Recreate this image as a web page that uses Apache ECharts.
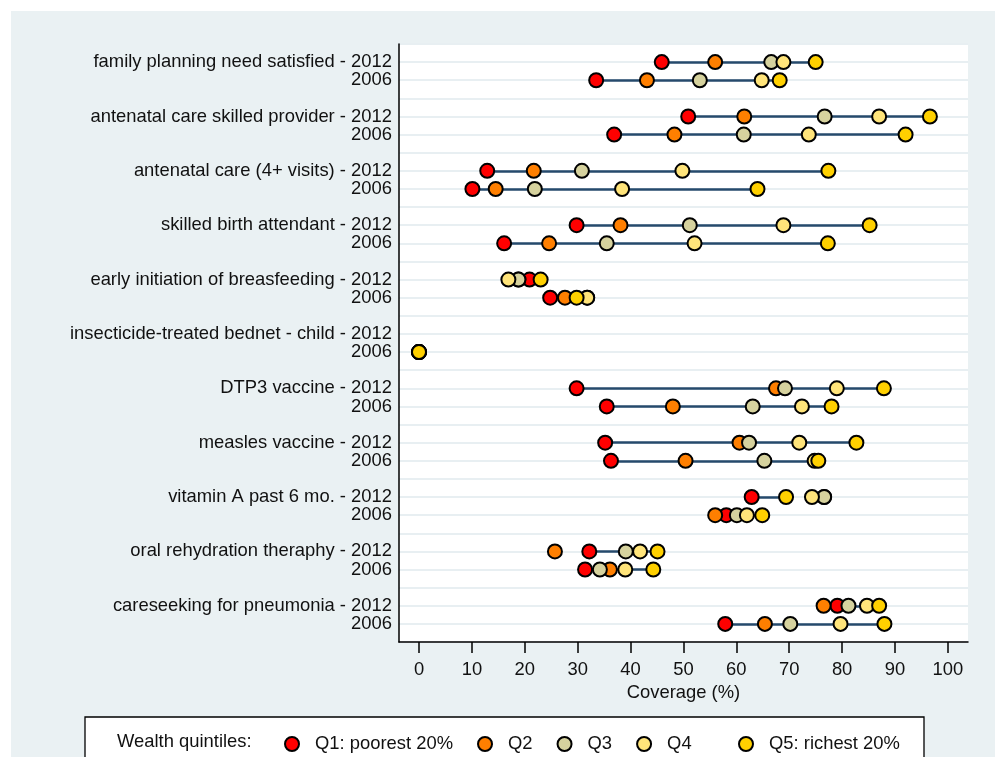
<!DOCTYPE html>
<html lang="en">
<head>
<meta charset="utf-8" />
<title>Coverage by wealth quintile</title>
<script src="https://cdn.jsdelivr.net/npm/echarts@6/dist/echarts.min.js"></script>
<style>
  html, body { margin: 0; padding: 0; background: #fff; }
  #chart { width: 995px; height: 757px; }
</style>
</head>
<body>
<div id="chart"></div>
<script>
// indicators, top to bottom; each has a 2012 row and a 2006 row
const indicators = [
  'family planning need satisfied',
  'antenatal care skilled provider',
  'antenatal care (4+ visits)',
  'skilled birth attendant',
  'early initiation of breasfeeding',
  'insecticide-treated bednet - child',
  'DTP3 vaccine',
  'measles vaccine',
  'vitamin A past 6 mo.',
  'oral rehydration theraphy',
  'careseeking for pneumonia'
];
const years = ['2012', '2006'];
const quintiles = ['Q1: poorest 20%', 'Q2', 'Q3', 'Q4', 'Q5: richest 20%'];
const quintileColors = ['#ff0000', '#ff7f00', '#d6d29e', '#ffe47a', '#ffd000'];

// coverage (%), one value per row: indicator 2012, indicator 2006, ...
const q1 = [45.9, 33.5, 50.9, 36.9, 12.9, 10.1, 29.8, 16.1, 20.9, 24.8, null, 0,
            29.8, 35.5, 35.2, 36.3, 62.9, 58.1, 32.2, 31.4, 79.1, 57.9];
const q2 = [56.0, 43.1, 61.5, 48.3, 21.7, 14.5, 38.1, 24.6, 18.8, 27.6, null, 0,
            67.5, 48.0, 60.6, 50.4, 76.6, 56.0, 25.7, 36.1, 76.5, 65.4];
const q3 = [66.6, 53.1, 76.7, 61.4, 30.8, 21.9, 51.2, 35.5, 18.8, 31.8, null, 0,
            69.2, 63.1, 62.4, 65.3, 76.6, 60.1, 39.1, 34.2, 81.2, 70.2];
const q4 = [68.9, 64.8, 87.0, 73.7, 49.8, 38.4, 68.9, 52.1, 16.9, 31.8, null, 0,
            79.0, 72.4, 71.9, 74.8, 74.3, 62.0, 41.8, 39.0, 84.7, 79.7];
const q5 = [75.0, 68.2, 96.6, 92.0, 77.4, 64.0, 85.2, 77.3, 23.0, 29.8, null, 0,
            87.9, 78.0, 82.7, 75.5, 69.4, 64.9, 45.1, 44.3, 87.0, 88.0];
const quintileValues = [q1, q2, q3, q4, q5];

const xTicks = [0, 10, 20, 30, 40, 50, 60, 70, 80, 90, 100];

// row j -> position on the y axis (two rows per indicator, then one empty slot)
const rowPos = function (j) { return 3 * Math.floor(j / 2) + (j % 2); };
const yLabelValues = [];
for (let j = 0; j < indicators.length * 2; j++) yLabelValues.push(rowPos(j));

const chart = echarts.init(document.getElementById('chart'));

const scatterSeries = quintiles.map(function (name, k) {
  const data = [];
  quintileValues[k].forEach(function (v, j) {
    if (v !== null) data.push([v, rowPos(j)]);
  });
  return {
    name: name,
    type: 'scatter',
    data: data,
    symbol: 'circle',
    symbolSize: 14,
    z: 3 + k,
    itemStyle: { color: quintileColors[k], borderColor: '#000', borderWidth: 2, opacity: 1 },
    emphasis: { disabled: true }
  };
});

// line from poorest to richest on every row
const lineData = [];
q1.forEach(function (v, j) {
  if (v !== null && q5[j] !== null) {
    lineData.push({ coords: [[v, rowPos(j)], [q5[j], rowPos(j)]] });
  }
});

const FONT = 18.4;
const legendBase = {
  top: 730,
  icon: 'circle',
  itemWidth: 36, itemHeight: 14, itemGap: 24,
  selectedMode: false,
  textStyle: { fontSize: FONT, color: '#111' }
};

const option = {
  animation: false,
  backgroundColor: '#ffffff',
  textStyle: { fontFamily: 'Liberation Sans, Arial, sans-serif' },
  graphic: [
    { type: 'rect', z: -10, shape: { x: 11, y: 11, width: 984, height: 746 },
      style: { fill: '#eaf1f3' } },
    { type: 'rect', z: 1, shape: { x: 85, y: 717, width: 839, height: 60 },
      style: { fill: '#ffffff', stroke: '#000', lineWidth: 1.3 } },
    { type: 'text', z: 2, left: 117, top: 733,
      style: { text: 'Wealth quintiles:', fontSize: FONT, fill: '#111',
               fontFamily: 'Liberation Sans, Arial, sans-serif' } }
  ],
  grid: {
    left: 399, right: 27, top: 44, bottom: 115,
    show: true, backgroundColor: '#ffffff', borderWidth: 0
  },
  legend: [
    Object.assign({}, legendBase, { data: quintiles.slice(0, 4), left: 279 }),
    Object.assign({}, legendBase, { data: quintiles.slice(4), left: 733 })
  ],
  xAxis: {
    type: 'value',
    min: -3.78, max: 103.8,
    name: 'Coverage (%)',
    nameLocation: 'middle',
    nameGap: 38,
    nameTextStyle: { fontSize: FONT, color: '#111' },
    axisLine: { show: true, onZero: false, lineStyle: { color: '#000', width: 1.5 } },
    axisTick: { show: true, length: 11, customValues: xTicks, lineStyle: { color: '#000', width: 1.5 } },
    axisLabel: { customValues: xTicks, fontSize: FONT, color: '#111', margin: 19 },
    splitLine: { show: false }
  },
  yAxis: {
    type: 'value',
    inverse: true,
    min: -1, max: 32, interval: 1,
    axisLine: { show: true, onZero: false, lineStyle: { color: '#000', width: 1.5 } },
    axisTick: { show: false },
    axisLabel: {
      customValues: yLabelValues,
      fontSize: FONT, color: '#111', margin: 7,
      formatter: function (v) {
        const i = Math.floor(v / 3);
        return (v % 3 === 0) ? indicators[i] + ' - ' + years[0] : years[1];
      }
    },
    splitLine: { show: true, lineStyle: { color: '#e8eff2', width: 2 } }
  },
  series: [{
    type: 'lines',
    coordinateSystem: 'cartesian2d',
    z: 2,
    silent: true,
    data: lineData,
    lineStyle: { color: '#264a6c', width: 2.6, opacity: 1 }
  }].concat(scatterSeries)
};

chart.setOption(option);
</script>
</body>
</html>
